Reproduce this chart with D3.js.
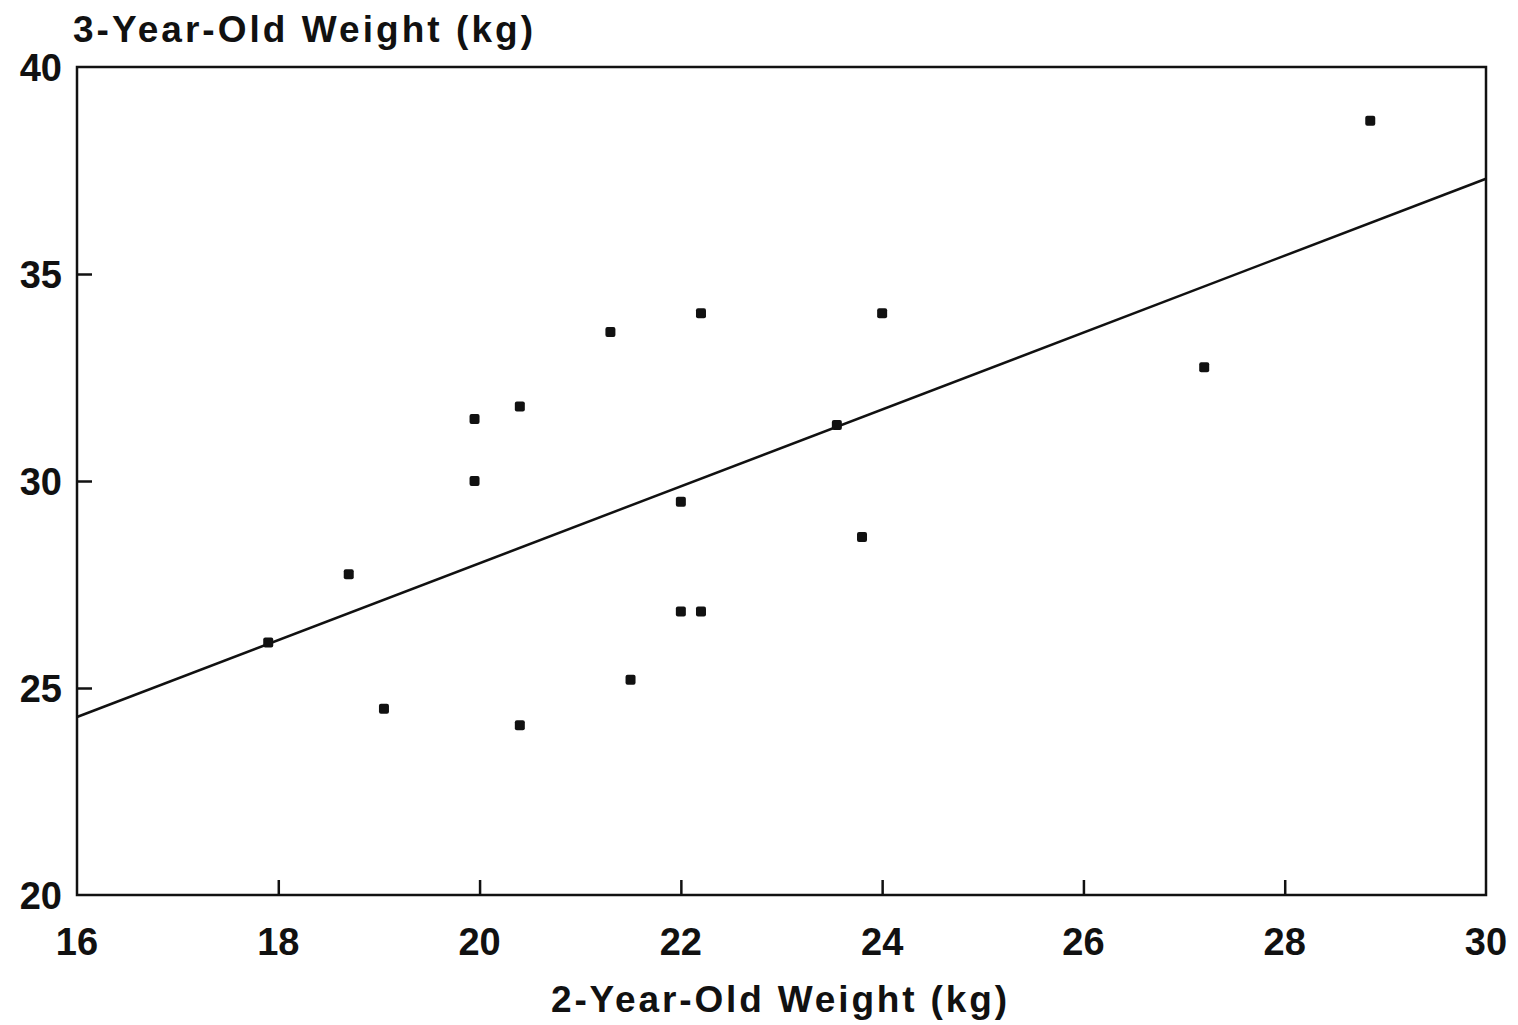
<!DOCTYPE html>
<html>
<head>
<meta charset="utf-8">
<script src="https://cdn.jsdelivr.net/npm/d3@7"></script>
<style>
  body { margin: 0; background: #fff; }
  text { font-family: "Liberation Sans", Arial, sans-serif; font-weight: bold; fill: #111; }
</style>
</head>
<body>
<svg width="1518" height="1025"></svg>
<script>
// weights
var weight2 = [17.9, 18.7, 19.05, 19.95, 19.95, 20.4, 20.4, 21.3, 21.5, 22.0, 22.0, 22.2, 22.2, 23.55, 23.8, 24.0, 27.2, 28.85];
var weight3 = [26.1, 27.75, 24.5, 31.5, 30.0, 31.8, 24.1, 33.6, 25.2, 29.5, 26.85, 26.85, 34.05, 31.35, 28.65, 34.05, 32.75, 38.7];

// fitted line end points
var fitX = [16, 30];
var fitY = [24.3, 37.3];

var xTicks = [16, 18, 20, 22, 24, 26, 28, 30];
var yTicks = [20, 25, 30, 35, 40];

var svg = d3.select("svg"),
    plotLeft = 77, plotRight = 1486, plotTop = 67, plotBottom = 895;

var x = d3.scaleLinear().domain([16, 30]).range([plotLeft, plotRight]);
var y = d3.scaleLinear().domain([20, 40]).range([plotBottom, plotTop]);

var ink = "#111";

// tick marks drawn inwards
var xAxis = d3.axisBottom(x).tickValues(xTicks.slice(1, -1)).tickSize(-15).tickFormat("");
svg.append("g")
    .attr("transform", "translate(0," + plotBottom + ")")
    .call(xAxis)
    .call(function(g) {
      g.select(".domain").remove();
      g.selectAll("line").attr("stroke", ink).attr("stroke-width", 2.5);
    });

var yAxis = d3.axisLeft(y).tickValues(yTicks.slice(1, -1)).tickSize(-15).tickFormat("");
svg.append("g")
    .attr("transform", "translate(" + plotLeft + ",0)")
    .call(yAxis)
    .call(function(g) {
      g.select(".domain").remove();
      g.selectAll("line").attr("stroke", ink).attr("stroke-width", 2.5);
    });

// frame
svg.append("rect")
    .attr("x", plotLeft).attr("y", plotTop)
    .attr("width", plotRight - plotLeft).attr("height", plotBottom - plotTop)
    .attr("fill", "none").attr("stroke", ink).attr("stroke-width", 2.5);

// tick labels
svg.append("g").selectAll("text")
  .data(xTicks)
  .enter().append("text")
    .attr("x", function(d) { return x(d); })
    .attr("y", 955)
    .attr("text-anchor", "middle")
    .style("font-size", "38px")
    .text(function(d) { return d; });

svg.append("g").selectAll("text")
  .data(yTicks)
  .enter().append("text")
    .attr("x", 62)
    .attr("y", function(d) { return y(d) + 14; })
    .attr("text-anchor", "end")
    .style("font-size", "38px")
    .text(function(d) { return d; });

// titles
svg.append("text")
    .attr("x", 73).attr("y", 42)
    .attr("textLength", 460).attr("lengthAdjust", "spacing")
    .style("font-size", "37px")
    .text("3-Year-Old Weight (kg)");

svg.append("text")
    .attr("x", 551).attr("y", 1012)
    .attr("textLength", 456).attr("lengthAdjust", "spacing")
    .style("font-size", "37px")
    .text("2-Year-Old Weight (kg)");

// regression line
var line = d3.line()
    .x(function(d, i) { return x(fitX[i]); })
    .y(function(d) { return y(d); });

svg.append("path")
    .datum(fitY)
    .attr("d", line)
    .attr("fill", "none")
    .attr("stroke", ink)
    .attr("stroke-width", 2.5);

// points
svg.append("g").selectAll("rect")
  .data(weight2)
  .enter().append("rect")
    .attr("x", function(d) { return x(d) - 5; })
    .attr("y", function(d, i) { return y(weight3[i]) - 5; })
    .attr("width", 10).attr("height", 10)
    .attr("rx", 2)
    .attr("fill", ink);
</script>
</body>
</html>
